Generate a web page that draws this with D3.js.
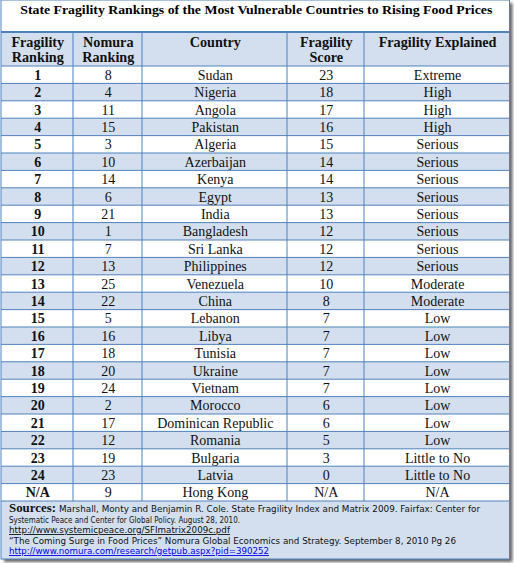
<!DOCTYPE html>
<html><head><meta charset="utf-8">
<script src="https://cdn.jsdelivr.net/npm/d3@7"></script>
<style>html,body{margin:0;padding:0;background:#fff;}svg{display:block;}</style>
</head><body>
<script>
const title = "State Fragility Rankings of the Most Vulnerable Countries to Rising Food Prices";
const headers = [["Fragility","Ranking"],["Nomura","Ranking"],["Country"],["Fragility","Score"],["Fragility Explained"]];
const fragilityRanking = ["1","2","3","4","5","6","7","8","9","10","11","12","13","14","15","16","17","18","19","20","21","22","23","24","N/A"];
const nomuraRanking = ["8","4","11","15","3","10","14","6","21","1","7","13","25","22","5","16","18","20","24","2","17","12","19","23","9"];
const countries = ["Sudan","Nigeria","Angola","Pakistan","Algeria","Azerbaijan","Kenya","Egypt","India","Bangladesh","Sri Lanka","Philippines","Venezuela","China","Lebanon","Libya","Tunisia","Ukraine","Vietnam","Morocco","Dominican Republic","Romania","Bulgaria","Latvia","Hong Kong"];
const fragilityScore = ["23","18","17","16","15","14","14","13","13","12","12","12","10","8","7","7","7","7","7","6","6","5","3","0","N/A"];
const fragilityExplained = ["Extreme","High","High","High","Serious","Serious","Serious","Serious","Serious","Serious","Serious","Serious","Moderate","Moderate","Low","Low","Low","Low","Low","Low","Low","Low","Little to No","Little to No","N/A"];
const sourcesLabel = "Sources:";
const sourceLines = [
  "Marshall, Monty and Benjamin  R. Cole. State Fragility Index and Matrix 2009.  Fairfax: Center for",
  "Systematic Peace and Center for Global Policy. August 28, 2010.",
  "http://www.systemicpeace.org/SFImatrix2009c.pdf",
  "\u201CThe Coming Surge in Food Prices\u201D Nomura Global Economics and Strategy. September 8, 2010 Pg 26",
  "http://www.nomura.com/research/getpub.aspx?pid=390252"
];

(function(){
const W = 514, H = 563;
const tLeft = 1, tRight = 509.5, tTop = 0, tBottom = 559;
const colEdges = [tLeft, 73, 142, 287, 364, tRight];
const BLUE = "#D3DFEE", LINE = "#4F81BD";
const serif = "'Liberation Serif','Times New Roman',serif";
const sans = "'DejaVu Sans',Verdana,sans-serif";

const svg = d3.select("body").append("svg").attr("width", W).attr("height", H);
const defs = svg.append("defs");
const f = defs.append("filter").attr("id","sh").attr("x","-5%").attr("y","-5%").attr("width","115%").attr("height","115%");
f.append("feGaussianBlur").attr("in","SourceAlpha").attr("stdDeviation",1.5);
f.append("feOffset").attr("dx",2.5).attr("dy",2.5).attr("result","ob");
f.append("feComponentTransfer").append("feFuncA").attr("type","linear").attr("slope",0.6);
const m = f.append("feMerge"); m.append("feMergeNode"); m.append("feMergeNode").attr("in","SourceGraphic");

const g = svg.append("g");
g.append("rect").attr("x",tLeft).attr("y",tTop).attr("width",tRight-tLeft).attr("height",tBottom-tTop)
  .attr("fill","#fff").attr("filter","url(#sh)");

const rowIdx = d3.range(countries.length);
const y = d3.scaleBand().domain(rowIdx).range([66, 501]);
const headerTop = 32, headerBottom = 66;

g.append("rect").attr("x",tLeft).attr("y",headerTop).attr("width",tRight-tLeft).attr("height",headerBottom-headerTop).attr("fill",BLUE);
g.selectAll("rect.row").data(rowIdx).join("rect").attr("class","row")
  .attr("x",tLeft).attr("y",d=>y(d)).attr("width",tRight-tLeft).attr("height",y.bandwidth())
  .attr("fill",d=> d%2===1 ? BLUE : "#fff");
g.append("rect").attr("x",tLeft).attr("y",501).attr("width",tRight-tLeft).attr("height",tBottom-501).attr("fill",BLUE);

g.append("text").attr("x",(tLeft+tRight)/2+1).attr("y",13.5).attr("text-anchor","middle")
  .attr("font-family",serif).attr("font-weight","bold").attr("font-size",13)
  .attr("textLength",472).attr("lengthAdjust","spacingAndGlyphs").text(title);

const hl = [headerBottom, ...rowIdx.map(d=>y(d)+y.bandwidth())];
g.selectAll("line.h").data(hl).join("line").attr("class","h")
  .attr("x1",tLeft).attr("x2",tRight).attr("y1",d=>d).attr("y2",d=>d)
  .attr("stroke",LINE).attr("stroke-width",1);
g.selectAll("line.v").data(colEdges.slice(1,-1)).join("line").attr("class","v")
  .attr("x1",d=>d).attr("x2",d=>d).attr("y1",headerTop).attr("y2",501)
  .attr("stroke",LINE).attr("stroke-width",1);
g.append("line").attr("x1",tLeft).attr("x2",tRight).attr("y1",headerTop).attr("y2",headerTop).attr("stroke",LINE).attr("stroke-width",2);
g.append("rect").attr("x",tLeft).attr("y",tTop).attr("width",tRight-tLeft).attr("height",tBottom-tTop)
  .attr("fill","none").attr("stroke",LINE).attr("stroke-width",1);

const cx = i => (colEdges[i]+colEdges[i+1])/2 + 0.8;

headers.forEach((lines,i)=>{
  const t = g.append("text").attr("text-anchor","middle").attr("font-family",serif)
    .attr("font-weight","bold").attr("font-size",14.2).attr("fill","#111");
  lines.forEach((ln,j)=> t.append("tspan").attr("x",cx(i)).attr("y",46.5+j*15).text(ln));
});

const cols = [fragilityRanking, nomuraRanking, countries, fragilityScore, fragilityExplained];
cols.forEach((arr,i)=>{
  g.selectAll("text.c"+i).data(arr).join("text").attr("class","c"+i)
    .attr("x",cx(i)).attr("y",(d,k)=>y(k)+13.8)
    .attr("text-anchor","middle").attr("font-family",serif)
    .attr("font-weight", i===0 ? "bold" : "normal")
    .attr("font-size",14).attr("fill","#111").text(d=>d);
});

g.append("text").attr("x",9).attr("y",512).attr("font-family",serif).attr("font-weight","bold")
  .attr("font-size",12.5).attr("fill","#111").attr("textLength",47).attr("lengthAdjust","spacingAndGlyphs").text(sourcesLabel);
const srcX = [59,9,9,9,9], srcY = [512,522.5,533,543.5,554], srcLen = [421,231,221,447,260];
sourceLines.forEach((s,i)=>{
  g.append("text").attr("x",srcX[i]).attr("y",srcY[i]).attr("font-family",sans).attr("font-size",9)
    .attr("textLength",srcLen[i]).attr("lengthAdjust","spacingAndGlyphs")
    .attr("fill", i===4 ? "#0000EE" : "#111")
    .attr("text-decoration", (i===2||i===4) ? "underline" : null)
    .text(s);
});
})();
</script>
</body></html>
